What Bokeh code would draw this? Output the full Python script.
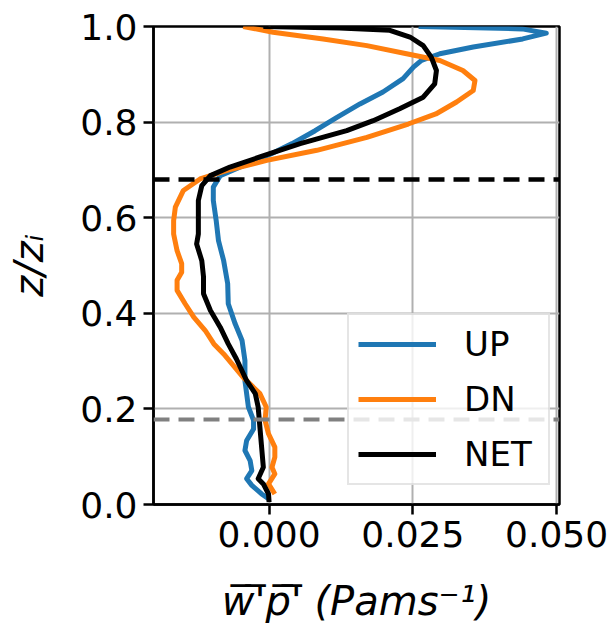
from bokeh.plotting import figure
from bokeh.models import Span, FixedTicker, Legend, LegendItem, Range1d
from bokeh.embed import file_html
from bokeh.resources import INLINE

# ---- data ----
up_z = [1.000, 0.995, 0.986, 0.974, 0.957, 0.943, 0.929, 0.915, 0.891, 0.863, 0.838, 0.810,
        0.782, 0.755, 0.734, 0.706, 0.688, 0.664, 0.636, 0.594, 0.552, 0.510, 0.462, 0.420,
        0.378, 0.343, 0.301, 0.259, 0.204, 0.176, 0.158, 0.134, 0.113, 0.092, 0.071, 0.054,
        0.040, 0.022, 0.012]
up_x = [0.0260, 0.0440, 0.0482, 0.0441, 0.0355, 0.0297, 0.0265, 0.0251, 0.0233, 0.0198, 0.0158, 0.0118,
        0.0080, 0.0040, 0.0004, -0.0050, -0.0085, -0.0097, -0.0097, -0.0092, -0.0088, -0.0079, -0.0072, -0.0071,
        -0.0059, -0.0047, -0.0042, -0.0042, -0.0036, -0.0027, -0.0027, -0.0039, -0.0042, -0.0033, -0.0030, -0.0039,
        -0.0030, -0.0013, -0.0001]

dn_z = [1.000, 0.988, 0.974, 0.960, 0.943, 0.929, 0.908, 0.887, 0.866, 0.842, 0.817, 0.796,
        0.768, 0.741, 0.720, 0.699, 0.681, 0.657, 0.622, 0.594, 0.566, 0.531, 0.504, 0.486,
        0.469, 0.448, 0.420, 0.392, 0.364, 0.336, 0.315, 0.266, 0.232, 0.204, 0.176, 0.148,
        0.120, 0.099, 0.078, 0.064, 0.043, 0.022]
dn_x = [-0.0045, 0.0007, 0.0094, 0.0170, 0.0239, 0.0297, 0.0337, 0.0358, 0.0355, 0.0326, 0.0290, 0.0242,
        0.0170, 0.0083, -0.0004, -0.0073, -0.0120, -0.0149, -0.0163, -0.0166, -0.0166, -0.0160, -0.0152, -0.0152,
        -0.0160, -0.0160, -0.0146, -0.0131, -0.0111, -0.0096, -0.0079, -0.0045, -0.0016, -0.0005, -0.0007, -0.0001,
        0.0010, 0.0010, 0.0005, 0.0010, -0.0001, 0.0010]

net_z = [1.000, 0.997, 0.992, 0.978, 0.960, 0.936, 0.908, 0.880, 0.852, 0.828, 0.803, 0.782,
         0.755, 0.727, 0.706, 0.688, 0.667, 0.636, 0.594, 0.566, 0.545, 0.510, 0.476, 0.441,
         0.406, 0.371, 0.336, 0.305, 0.259, 0.232, 0.204, 0.162, 0.120, 0.078, 0.054, 0.043,
         0.022, 0.005]
net_x = [-0.0010, 0.0123, 0.0210, 0.0245, 0.0268, 0.0282, 0.0291, 0.0288, 0.0268, 0.0227, 0.0181, 0.0135,
         0.0054, -0.0016, -0.0068, -0.0102, -0.0117, -0.0123, -0.0123, -0.0123, -0.0126, -0.0117, -0.0114, -0.0114,
         -0.0102, -0.0085, -0.0071, -0.0057, -0.0039, -0.0024, -0.0019, -0.0016, -0.0013, -0.0010, -0.0019, -0.0010,
         -0.0001, 0.0000]

series_names = ["UP", "DN", "NET"]
series_colors = ["#1f77b4", "#ff7f0e", "#000000"]

zi_line = 0.68      # black dashed
zl_line = 0.178     # gray dashed

x_ticks = [0.0, 0.025, 0.05]
x_tick_labels = ["0.000", "0.025", "0.050"]
y_ticks = [0.0, 0.2, 0.4, 0.6, 0.8, 1.0]
y_tick_labels = ["0.0", "0.2", "0.4", "0.6", "0.8", "1.0"]

FONT = "DejaVu Sans"

p = figure(width=609, height=635, output_backend="svg", toolbar_location=None,
           x_range=Range1d(-0.0201, 0.0505), y_range=Range1d(0.0, 1.0),
           min_border_left=153, min_border_right=50, min_border_top=26, min_border_bottom=131)
p.background_fill_color = "white"
p.border_fill_color = "white"
p.outline_line_color = "black"
p.outline_line_width = 2.5

for ax, ticks, labels in ((p.xaxis[0], x_ticks, x_tick_labels), (p.yaxis[0], y_ticks, y_tick_labels)):
    ax.ticker = FixedTicker(ticks=ticks)
    ax.major_label_overrides = {t: l for t, l in zip(ticks, labels)}
    ax.major_label_text_font = FONT
    ax.major_label_text_font_size = "36px"
    ax.major_label_text_color = "black"
    ax.axis_line_color = "black"
    ax.axis_line_width = 2.5
    ax.major_tick_line_color = "black"
    ax.major_tick_line_width = 2.5
    ax.major_tick_out = 10
    ax.major_tick_in = 0
    ax.minor_tick_line_color = None
    ax.axis_label_text_font = FONT
    ax.axis_label_text_font_size = "40px"
    ax.axis_label_text_font_style = "italic"
    ax.axis_label_text_color = "black"

p.xaxis.axis_label = "w\u0305'\u0305p\u0305'\u0305 (Pams\u207b\u00b9)"
p.yaxis.axis_label = "z/z\u1d62"
p.xaxis.major_label_standoff = 6
p.yaxis.major_label_standoff = 6
p.xaxis.axis_label_standoff = 28
p.yaxis.axis_label_standoff = 25

p.grid.grid_line_color = "#b0b0b0"
p.grid.grid_line_width = 2
p.xgrid.ticker = FixedTicker(ticks=x_ticks)
p.ygrid.ticker = FixedTicker(ticks=y_ticks)

p.add_layout(Span(location=zi_line, dimension="width", line_color="black",
                  line_width=4.5, line_dash="16 9"))
p.add_layout(Span(location=zl_line, dimension="width", line_color="#808080",
                  line_width=4, line_dash="16 9"))

renderers = []
for xs, zs, c in ((up_x, up_z, series_colors[0]), (dn_x, dn_z, series_colors[1]), (net_x, net_z, series_colors[2])):
    r = p.line(xs, zs, line_color=c, line_width=5, line_join="round")
    renderers.append(r)

legend = Legend(items=[LegendItem(label=n, renderers=[r]) for n, r in zip(series_names, renderers)],
                location=(194, 19), orientation="vertical",
                label_text_font=FONT, label_text_font_size="34px", label_text_color="black",
                glyph_width=78, glyph_height=40, label_height=40, label_width=75,
                label_standoff=28, spacing=15, padding=9, margin=0,
                border_line_color="#cccccc", border_line_width=2,
                background_fill_color="white", background_fill_alpha=0.8)
p.add_layout(legend)

open("out.html", "w").write(file_html(p, INLINE))
